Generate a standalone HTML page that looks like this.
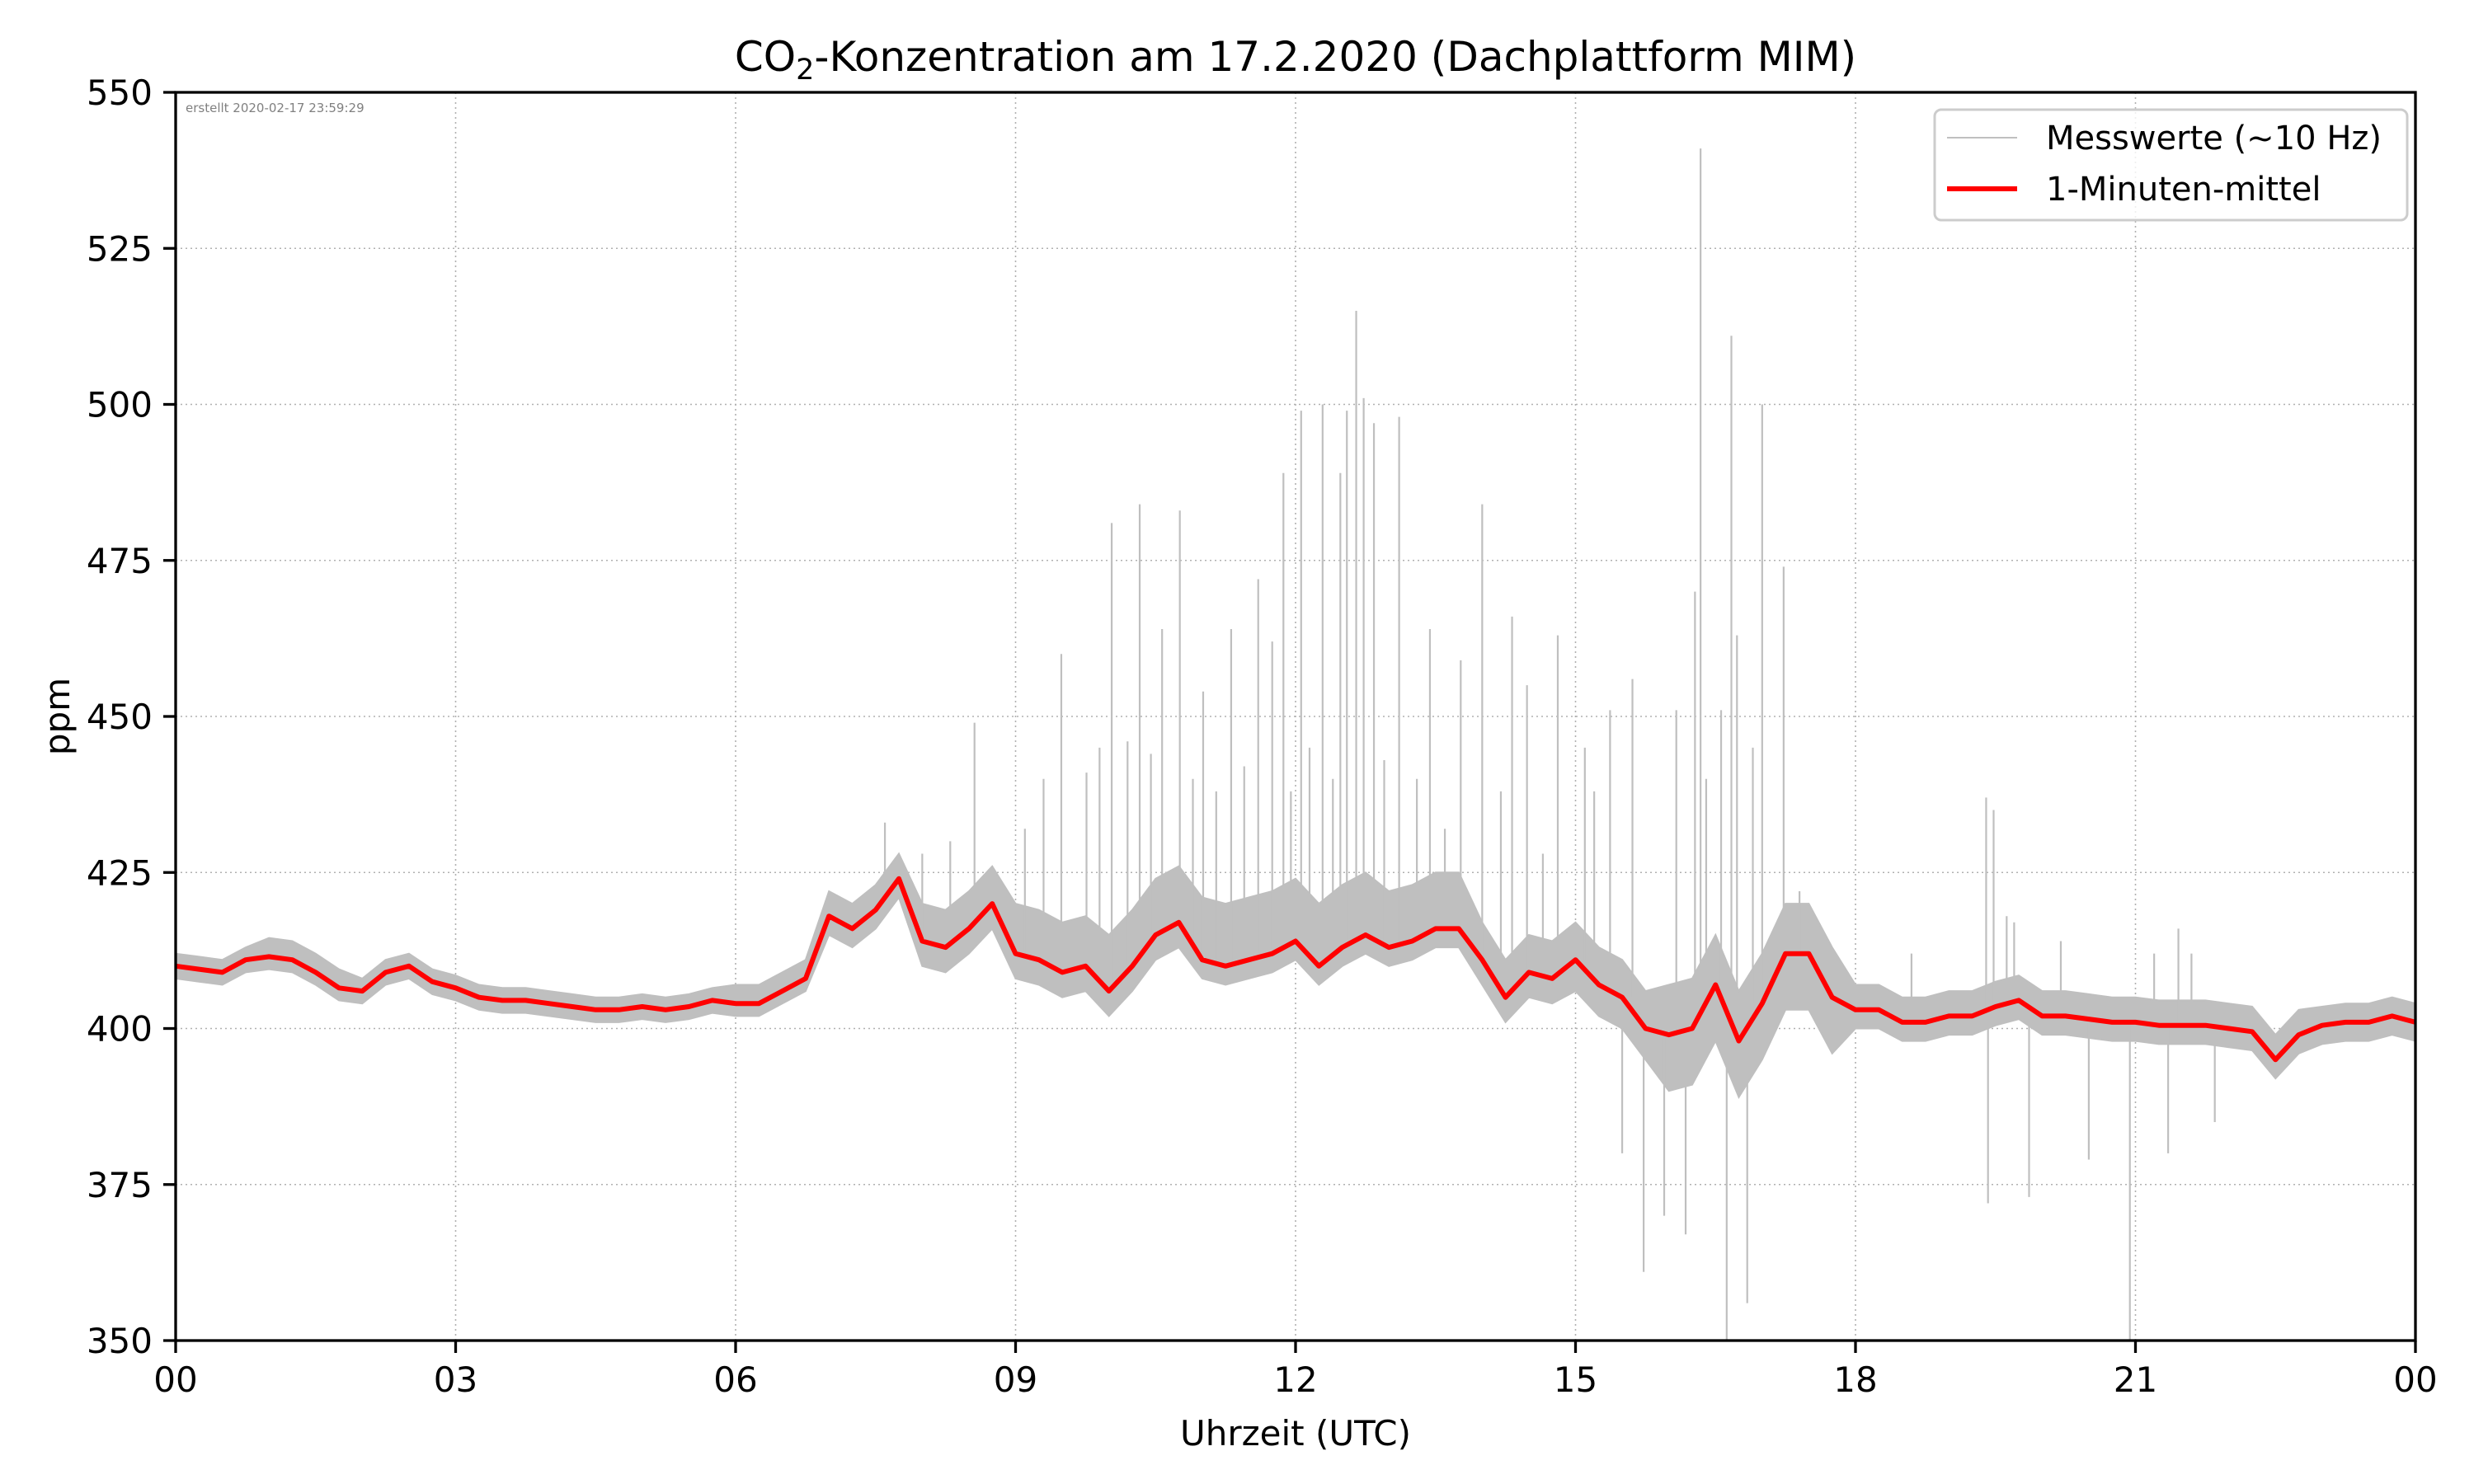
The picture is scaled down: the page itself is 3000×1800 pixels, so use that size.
<!DOCTYPE html>
<html><head><meta charset="utf-8">
<style>
html,body{margin:0;padding:0;background:#fff;}
svg{display:block;font-family:"DejaVu Sans","Liberation Sans",sans-serif;}
</style></head>
<body>
<svg id="chart" width="3000" height="1800" viewBox="0 0 3000 1800" xmlns="http://www.w3.org/2000/svg">
<rect width="3000" height="1800" fill="#fff"/>
<text x="1571" y="86" font-size="50" text-anchor="middle">CO<tspan font-size="35" dy="10">2</tspan><tspan dy="-10">-Konzentration am 17.2.2020 (Dachplattform MIM)</tspan></text>
<g id="grid"></g>
<g id="marks"></g>
<text x="225" y="136" font-size="15" fill="#808080">erstellt 2020-02-17 23:59:29</text>
<rect x="213" y="112" width="2716" height="1514" fill="none" stroke="#000" stroke-width="3.3"/>
<g id="ticks"></g>
<text x="1571" y="1753" font-size="42" text-anchor="middle">Uhrzeit (UTC)</text>
<text transform="translate(84,869) rotate(-90)" font-size="42" text-anchor="middle">ppm</text>
<g>
<rect x="2346" y="133" width="573" height="134" rx="8" fill="#fff" fill-opacity="0.8" stroke="#ccc" stroke-width="3"/>
<line x1="2361" y1="167" x2="2446" y2="167" stroke="#bfbfbf" stroke-width="2"/>
<text x="2481" y="181" font-size="40">Messwerte (~10 Hz)</text>
<line x1="2361" y1="229" x2="2446" y2="229" stroke="#ff0000" stroke-width="6"/>
<text x="2481" y="243" font-size="40">1-Minuten-mittel</text>
</g>
</svg>
<script>
// 15-minute samples of the 1-minute mean (hours 0..24)
const meanValues = [
410,409.5,409,411, 411.5,411,409,406.5, 406,409,410,407.5, 406.5,405,404.5,404.5,
404,403.5,403,403, 403.5,403,403.5,404.5, 404,404,406,408, 418,416,419,424,
414,413,416,420, 412,411,409,410, 406,410,415,417, 411,410,411,412,
414,410,413,415, 413,414,416,416, 411,405,409,408, 411,407,405,400,
399,400,407,398, 404,412,412,405, 403,403,401,401, 402,402,403.5,404.5,
402,402,401.5,401, 401,400.5,400.5,400.5, 400,399.5,395,399, 400.5,401,401,402, 401];
// hourly spread of raw measurements above / below the mean
const envUp = [2,3,2,2,2,2,3,4,6,8,9,10,10,9,6,6,8,8,4,4,4,4,4,3,3];
const envDn = [2,2,2,2,2,2,2,3,4,4,4,3,3,3,4,5,9,9,3,3,3,3,3,3,3];
// isolated raw spikes: time (h) and value (ppm)
const spikeT = [8.56,9.49,9.76,10.03,10.33,10.57,10.76,11.01,11.31,11.6,11.75,11.87,12.06,12.29,12.48,12.55,12.65,12.73,12.84,13.11,13.44,13.77,14.0,14.32,14.48,14.81,15.37,15.61,16.08,16.28,16.34,16.56,16.67,16.73,17.0,17.23,19.4,19.48,19.62,21.46,
15.5,15.73,15.95,16.18,16.62,16.84,19.42,19.86,20.5,20.94,21.35,21.85,
7.6,8.0,8.3,9.1,9.3,9.9,10.2,10.45,10.9,11.15,11.45,11.95,12.15,12.4,12.95,13.3,13.6,14.2,14.65,15.1,15.2,16.4,16.9,17.4,18.6,19.7,20.2,21.2,21.6];
const spikeV = [449,460,441,481,484,464,483,454,464,472,462,489,499,500,489,499,515,501,497,498,464,459,484,466,455,463,451,456,451,470,541,451,511,463,500,474,437,435,418,416,
380,361,370,367,350,356,372,373,379,350,380,385,
433,428,430,432,440,445,446,444,440,438,442,438,445,440,443,440,432,438,428,445,438,440,445,422,412,417,414,412,412];
const xTicks = [0,3,6,9,12,15,18,21,24];
const xTickLabels = ["00","03","06","09","12","15","18","21","00"];
const yTicks = [350,375,400,425,450,475,500,525,550];

const L=213,R=2929,T=112,B=1626;
const xs = h => L + (R-L)*h/24;
const ys = v => B - (B-T)*(Math.max(350,Math.min(550,v))-350)/200;
const NS="http://www.w3.org/2000/svg";
function mk(tag, attrs, parent){const e=document.createElementNS(NS,tag);for(const k in attrs)e.setAttribute(k,attrs[k]);parent.appendChild(e);return e;}
const grid=document.getElementById('grid'), marks=document.getElementById('marks'), ticks=document.getElementById('ticks');

xTicks.forEach((h,i)=>{
  const x=xs(h);
  const g=mk('line',{x1:x,y1:T,x2:x,y2:B,stroke:'#b0b0b0','stroke-width':1.6,'stroke-dasharray':'2,4'},grid);
  
  
  const t=mk('line',{x1:x,y1:B,x2:x,y2:B+15,stroke:'#000','stroke-width':3.3},ticks);
  
  
  const lb=mk('text',{x:x,y:B+62,'font-size':42,'text-anchor':'middle'},ticks);
  lb.textContent=xTickLabels[i];
  
  
});
yTicks.forEach(v=>{
  const y=ys(v);
  const g=mk('line',{x1:L,y1:y,x2:R,y2:y,stroke:'#b0b0b0','stroke-width':1.6,'stroke-dasharray':'2,4'},grid);
  
  
  const t=mk('line',{x1:L-15,y1:y,x2:L,y2:y,stroke:'#000','stroke-width':3.3},ticks);
  
  
  const lb=mk('text',{x:L-28,y:y+15,'font-size':42,'text-anchor':'end'},ticks);
  lb.textContent=String(v);
  
  
});

// raw measurement band
const n=meanValues.length;
let up=[],dn=[];
for(let i=0;i<n;i++){
  const h=i/4, hi=Math.min(24,Math.floor(h));
  up.push(xs(h).toFixed(1)+','+ys(meanValues[i]+envUp[hi]).toFixed(1));
  dn.push(xs(h).toFixed(1)+','+ys(meanValues[i]-envDn[hi]).toFixed(1));
}
const band=mk('polygon',{points:up.concat(dn.reverse()).join(' '),fill:'#bfbfbf',stroke:'#bfbfbf','stroke-width':2},marks);



spikeT.forEach((h,i)=>{
  const base=meanValues[Math.min(n-1,Math.round(h*4))];
  const s=mk('line',{x1:xs(h),y1:ys(base),x2:xs(h),y2:ys(spikeV[i]),stroke:'#bfbfbf','stroke-width':2.2},marks);
  
  
});

const pts=meanValues.map((v,i)=>xs(i/4).toFixed(1)+','+ys(v).toFixed(1)).join(' ');
const ln=mk('polyline',{points:pts,fill:'none',stroke:'#ff0000','stroke-width':6,'stroke-linejoin':'round'},marks);


</script>
</body></html>
